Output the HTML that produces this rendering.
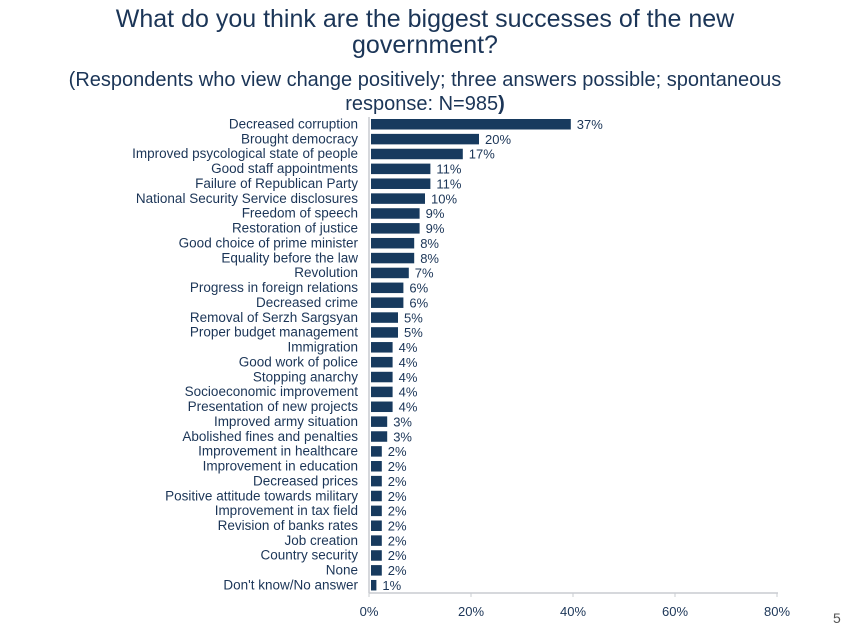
<!DOCTYPE html>
<html><head><meta charset="utf-8"><style>
body{margin:0;background:#fff;width:850px;height:638px;overflow:hidden;font-family:"Liberation Sans","DejaVu Sans",sans-serif;}
.t{position:absolute;left:0;width:850px;text-align:center;color:#1b3557;}
</style></head><body>
<div class="t" style="top:6px;font-size:25px;line-height:26px;">What do you think are the biggest successes of the new<br>government?</div>
<div class="t" style="top:68px;font-size:20px;line-height:24px;">(Respondents who view change positively; three answers possible; spontaneous<br>response: N=985<b>)</b></div>
<svg id="c" width="850" height="638" style="position:absolute;left:0;top:0"></svg>
<div style="position:absolute;left:833px;top:610px;font-size:14px;color:#555;">5</div>
<script>
const categories=["Decreased corruption","Brought democracy","Improved psycological state of people","Good staff appointments","Failure of Republican Party","National Security Service disclosures","Freedom of speech","Restoration of justice","Good choice of prime minister","Equality before the law","Revolution","Progress in foreign relations","Decreased crime","Removal of Serzh Sargsyan","Proper budget management","Immigration","Good work of police","Stopping anarchy","Socioeconomic improvement","Presentation of new projects","Improved army situation","Abolished fines and penalties","Improvement in healthcare","Improvement in education","Decreased prices","Positive attitude towards military","Improvement in tax field","Revision of banks rates","Job creation","Country security","None","Don't know/No answer"];
const values=[37,20,17,11,11,10,9,9,8,8,7,6,6,5,5,4,4,4,4,4,3,3,2,2,2,2,2,2,2,2,2,1];
const ticks=[0,20,40,60,80];
const svg=document.getElementById('c');const NS='http://www.w3.org/2000/svg';
const x=v=>371+v*5.4;
const tx=v=>369+v*(408/80);
const y=i=>124+i*14.87;
function mk(t,a){const e=document.createElementNS(NS,t);for(const k in a)e.setAttribute(k,a[k]);svg.appendChild(e);return e;}
let e=mk('line',{x1:369,y1:117,x2:369,y2:593,stroke:'#c9ccd1','stroke-width':1.5});


e=mk('line',{x1:369,y1:593,x2:778,y2:593,stroke:'#c9ccd1','stroke-width':1.5});


ticks.forEach(t=>{
 let l=mk('line',{x1:tx(t),y1:593,x2:tx(t),y2:597,stroke:'#c9ccd1'});
 
 
 let s=mk('text',{x:tx(t),y:616,'text-anchor':'middle','font-size':13,fill:'#1b3557'});s.textContent=t+'%';
 
 
});
categories.forEach((c,i)=>{
 let l=mk('text',{x:358,y:y(i)+4.5,'text-anchor':'end','font-size':13.5,fill:'#1b3557'});l.textContent=c;
 
 
 let r=mk('rect',{x:x(0),y:y(i)-5,width:x(values[i])-x(0),height:10.5,fill:'#173a5e'});
 
 
 let v=mk('text',{x:x(values[i])+6,y:y(i)+5,'font-size':13,fill:'#1b3557'});v.textContent=values[i]+'%';
 
 
});
</script>
</body></html>
